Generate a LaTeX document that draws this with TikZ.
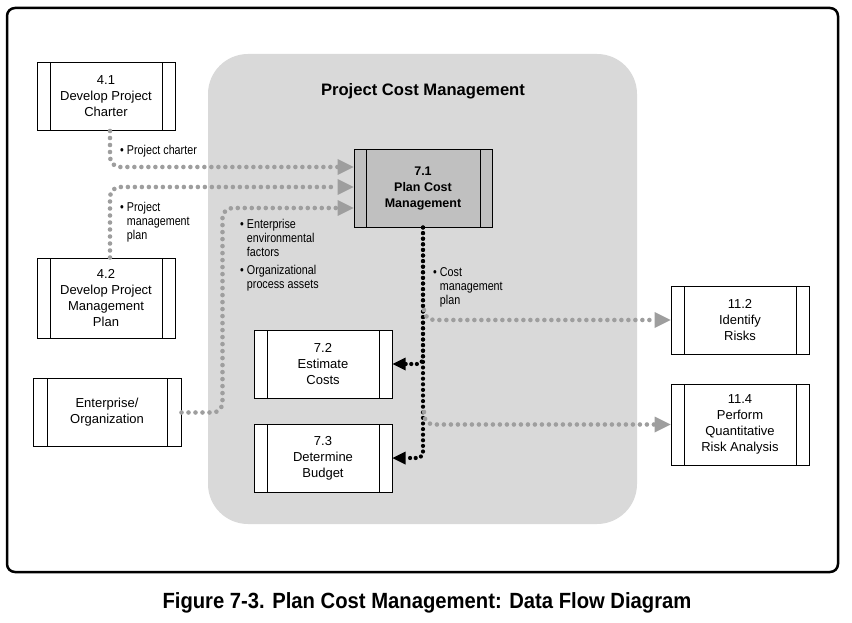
\documentclass[tikz,border=0pt]{standalone}
\usepackage{fontspec}
\setmainfont{Liberation Sans}
\newfontfamily\condfont[FakeStretch=0.84]{Liberation Sans}
\newfontfamily\capfont[FakeStretch=0.92]{Liberation Sans}
\usetikzlibrary{arrows.meta}
\definecolor{panel}{RGB}{217,217,217}
\definecolor{hilite}{RGB}{192,192,192}
\definecolor{dotgray}{RGB}{158,158,158}
\tikzset{
  proc/.style={draw, line width=1pt, fill=white, minimum width=138pt, minimum height=68pt,
    inner sep=0pt, align=center, font=\fontsize{13}{16}\selectfont,
    path picture={
      \draw[line width=1pt] ([xshift=#1]path picture bounding box.north west) -- ([xshift=#1]path picture bounding box.south west);
      \draw[line width=1pt] ([xshift=-#1]path picture bounding box.north east) -- ([xshift=-#1]path picture bounding box.south east);}},
  proc/.default=13pt,
  lbl/.style={inner sep=0pt, align=left, font=\condfont\fontsize{12.8}{14}\selectfont},
  flow/.style={draw=dotgray, line width=4.6pt, line cap=round, dash pattern=on 0pt off 7pt,
    rounded corners=10pt, -{Triangle[length=16pt,width=16pt,line width=0pt,fill=dotgray]}},
  ctl/.style={draw=black, line width=4.2pt, line cap=round, dash pattern=on 0pt off 5.6pt,
    rounded corners=6pt, -{Triangle[length=13pt,width=13pt,line width=0pt,fill=black]}}
}

\begin{document}
\begin{tikzpicture}[x=1pt,y=1pt]
    \useasboundingbox (0,0) rectangle (852,-623);
    \draw[line width=2.5pt, rounded corners=8pt] (7,-8) rectangle (838,-572);
    \fill[panel, rounded corners=40pt] (208,-54) rectangle (637,-524);
    \node[font=\bfseries\fontsize{16.6}{19}\selectfont] (title) at (423,-91) {Project Cost Management};

    % processes
    \node[proc] (p41) at (106,-96.5) {4.1\\Develop Project\\Charter};
    \node[proc, minimum height=80pt] (p42) at (106,-298) {4.2\\Develop Project\\Management\\Plan};
    \node[proc=14pt, minimum width=148pt] (ent) at (107,-412.5) {Enterprise/\\Organization};
    \node[proc=12pt, fill=hilite, minimum height=77pt, font=\bfseries\fontsize{12.5}{16}\selectfont] (p71) at (423,-188.5) {7.1\\Plan Cost\\Management};
    \node[proc] (p72) at (323,-364) {7.2\\Estimate\\Costs};
    \node[proc] (p73) at (323,-458) {7.3\\Determine\\Budget};
    \node[proc] (p112) at (740,-320) {11.2\\Identify\\Risks};
    \node[proc, minimum height=81pt] (p114) at (740,-424.5) {11.4\\Perform\\Quantitative\\Risk Analysis};

    % inputs
    \draw[flow] ([xshift=4pt]p41.south) |- ([yshift=21.5pt]p71.west);
    \draw[flow] ([xshift=4pt]p42.north) |- ([yshift=1.5pt]p71.west);
    \draw[flow] (ent.east) -- ++(41,0) |- ([yshift=-19.5pt]p71.west);
    \node[lbl, anchor=west] (l1) at (120,-151) {\textbullet\ Project charter};
    \node[lbl, anchor=west] (l2) at (120,-222) {\textbullet\ Project\\\phantom{\textbullet\ }management\\\phantom{\textbullet\ }plan};
    \node[lbl, anchor=north west] (l3) at (240,-219) {\textbullet\ Enterprise\\\phantom{\textbullet\ }environmental\\\phantom{\textbullet\ }factors\\[4pt]\textbullet\ Organizational\\\phantom{\textbullet\ }process assets};

    % outputs
    \draw[ctl] (p71.south) |- (p73.east);
    \draw[ctl] (p71.south) |- (p72.east);
    \coordinate (b1) at (424,-310);
    \coordinate (b2) at (424,-412);
    \draw[flow] (b1) |- (p112.west);
    \draw[flow] (b2) |- (p114.west);
    \node[lbl, anchor=west] (l4) at (433,-287) {\textbullet\ Cost\\\phantom{\textbullet\ }management\\\phantom{\textbullet\ }plan};

    \node[font=\capfont\bfseries\fontsize{22}{26}\selectfont] (cap) at (427,-603) {Figure 7-3. Plan Cost Management: Data Flow Diagram};
\end{tikzpicture}
\end{document}
